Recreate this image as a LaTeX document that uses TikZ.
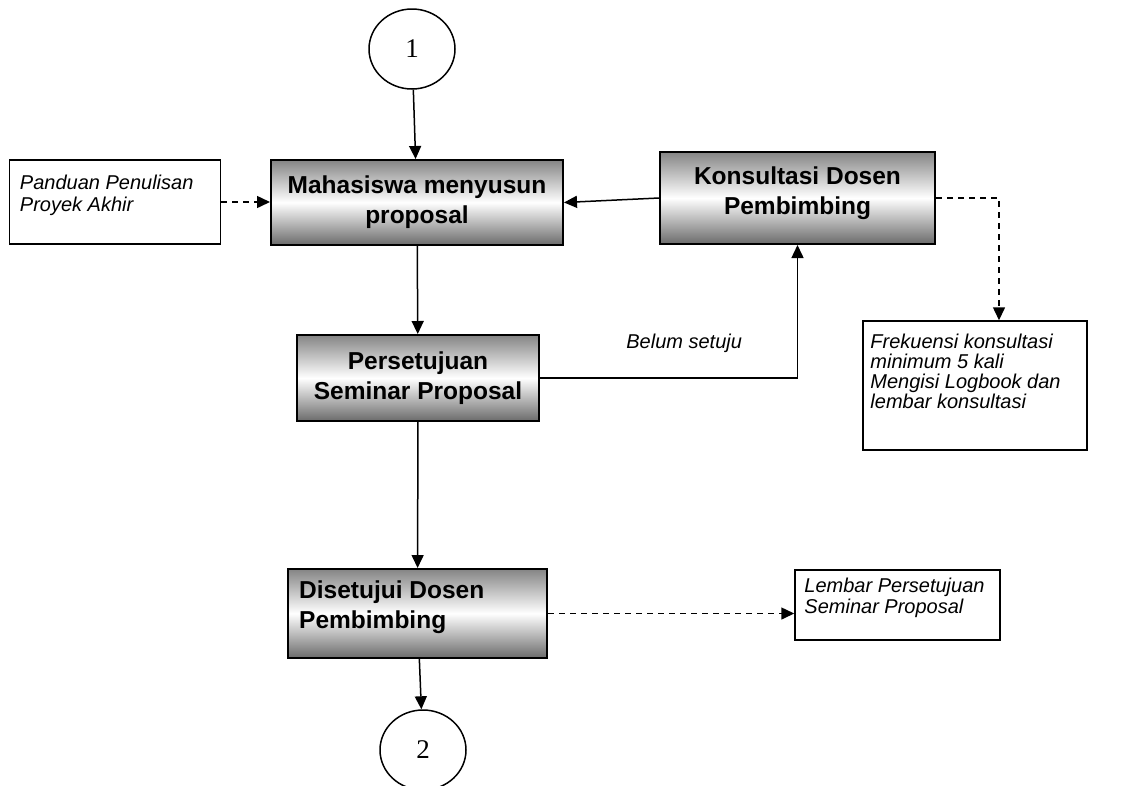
\documentclass[tikz,border=0pt]{standalone}
\usepackage{fontspec}
\setmainfont{Liberation Sans}
\newfontfamily\numfont{Liberation Serif}
\usetikzlibrary{arrows.meta,shapes.geometric}
\begin{document}
\begin{tikzpicture}[x=1pt,y=-1pt,
  stepfont/.style={font=\bfseries\fontsize{24.5}{30}\selectfont},
  stepbox/.style={draw=black, line width=2pt, rectangle,
    top color=black!48, bottom color=black!58, middle color=white,
    stepfont, align=center, inner sep=0pt},
  notebox/.style={draw=black, line width=1.5pt, fill=white, rectangle, inner sep=0pt},
  notefont/.style={font=\itshape\fontsize{20}{20}\selectfont},
  notetext/.style={notefont, align=left, inner sep=0pt, anchor=north west},
  connector/.style={line width=1.5pt, -{Triangle[length=13pt,width=12pt]}},
  dashlink/.style={connector, dash pattern=on 6pt off 5pt},
  pagecircle/.style={draw, ellipse, line width=1.5pt, minimum width=86pt, minimum height=80pt,
    font=\numfont\fontsize{27}{27}\selectfont, inner sep=0pt}
]
\useasboundingbox (0,0) rectangle (1131,785);

% off-page connectors
\node[pagecircle] (c1) at (412,49) {1};
\node[pagecircle] (c2) at (423,750) {2};

% process steps
\node[stepbox, minimum width=292, minimum height=85] (mhs) at (417,202.5)
  {Mahasiswa menyusun\\proposal};
\node[stepbox, minimum width=275, minimum height=92,
  label={[stepfont, align=center, inner sep=0pt, yshift=5pt]center:{Konsultasi Dosen\\Pembimbing}}]
  (kons) at (797.5,198) {};
\node[stepbox, minimum width=242, minimum height=86] (pers) at (418,378)
  {Persetujuan\\Seminar Proposal};
\node[stepbox, minimum width=259, minimum height=89,
  label={[stepfont, align=left, inner sep=0pt, anchor=west, xshift=12pt, yshift=6pt]west:{Disetujui Dosen\\Pembimbing}}]
  (dis) at (417.5,613.5) {};

% notes
\node[notebox, minimum width=211, minimum height=84,
  label={[notetext, xshift=11pt, yshift=-16pt]north west:{Panduan Penulisan\\[2pt]Proyek Akhir}}]
  (pan) at (115,202) {};
\node[notebox, minimum width=224, minimum height=129,
  label={[notetext, xshift=8pt, yshift=-14pt]north west:{Frekuensi konsultasi\\minimum 5 kali\\Mengisi Logbook dan\\lembar konsultasi}}]
  (frek) at (975,385.5) {};
\node[notebox, minimum width=205, minimum height=70,
  label={[notetext, xshift=10pt, yshift=-9pt]north west:{Lembar Persetujuan\\[1pt]Seminar Proposal}}]
  (lemb) at (897.5,605) {};

% flow
\draw[connector] (c1) -- (mhs);
\draw[connector] (kons.west) -- (mhs.east);
\draw[connector] (mhs) -- (pers);
\draw[connector] (pers) -- (dis);
\draw[connector] (dis) -- (c2);
\draw[connector] (pers.east) -| (kons.south)
  node[pos=0.28, yshift=35pt, notefont, inner sep=0pt] {Belum setuju};

% references
\draw[dashlink] (pan.east) -- (pan.east -| mhs.west);
\draw[dashlink] (kons.east) -| ([xshift=24pt]frek.north);
\draw[dashlink] (dis.east) -- (dis.east -| lemb.west);
\end{tikzpicture}
\end{document}
